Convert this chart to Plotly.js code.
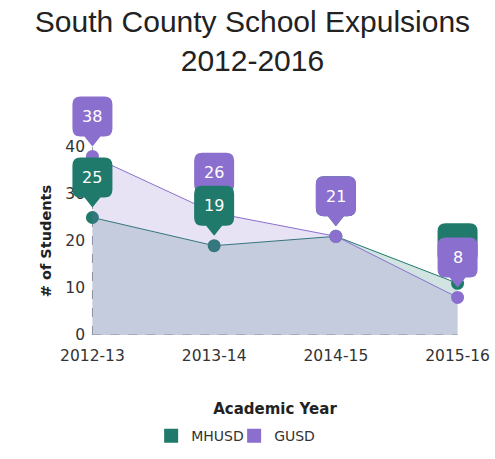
<!DOCTYPE html>
<html>
<head>
<meta charset="utf-8">
<script src="https://cdn.plot.ly/plotly-3.0.1.min.js"></script>
<style>html,body{margin:0;padding:0;background:#fff;}#chart{width:495px;height:459px;}</style>
</head>
<body>
<div id="chart"></div>
<script>
// ---- data ----
var years = ['2012-13', '2013-14', '2014-15', '2015-16'];
var mhusd = [25, 19, 21, 11];
var gusd = [38, 26, 21, 8];
var seriesNames = ['MHUSD', 'GUSD'];
var yTicks = [0, 10, 20, 30, 40];

// ---- styles ----
var teal = '#1f7a6b';
var purple = '#8b6fcf';
var TFONT = 'Liberation Sans, Arial, sans-serif';
var FONT = 'DejaVu Sans, sans-serif';

// layout geometry: the value axis (0-40) fills the lower part of the plot area,
// a hidden twin axis with the same scale spans the whole area for the callouts
var yMax = yTicks[yTicks.length - 1];
var yDomainTop = 0.7705;

var traces = [
  {
    x: years, y: mhusd, name: seriesNames[0], type: 'scatter', mode: 'lines+markers',
    fill: 'tozeroy', fillcolor: 'rgba(31,122,107,0.20)',
    line: {color: teal, width: 1}, marker: {color: teal, size: 13},
    showlegend: false, hoverinfo: 'skip', cliponaxis: false
  },
  {
    x: years, y: gusd, name: seriesNames[1], type: 'scatter', mode: 'lines+markers',
    fill: 'tozeroy', fillcolor: 'rgba(139,111,207,0.20)',
    line: {color: purple, width: 1}, marker: {color: purple, size: 13},
    showlegend: false, hoverinfo: 'skip', cliponaxis: false
  },
  // legend-only swatches
  {x: [null], y: [null], name: seriesNames[0], type: 'scatter', mode: 'markers',
   marker: {symbol: 'square', size: 14, color: teal}, hoverinfo: 'skip'},
  {x: [null], y: [null], name: seriesNames[1], type: 'scatter', mode: 'markers',
   marker: {symbol: 'square', size: 14, color: purple}, hoverinfo: 'skip'}
];

// callout shape (pixel offsets relative to the data point, up is positive)
var calloutPath = 'M -20,28 L -20,52 Q -20,60 -12,60 L 12,60 Q 20,60 20,52 L 20,28 Q 20,20 12,20 L 8,20 L 0,10 L -8,20 L -12,20 Q -20,20 -20,28 Z';

var shapes = [
  {type: 'line', xref: 'x', yref: 'y', x0: years[0], x1: years[years.length - 1], y0: 0, y1: 0,
   line: {color: '#9a9a9a', width: 1, dash: 'dash'}, layer: 'between'},
  {type: 'line', xref: 'x', yref: 'y', x0: years[0], x1: years[0], y0: 0, y1: yMax,
   line: {color: '#9a9a9a', width: 1, dash: 'dash'}, layer: 'between'}
];
var annotations = [];

function addCallout(cat, val, color, showText) {
  shapes.push({
    type: 'path', xref: 'x', yref: 'y2', xsizemode: 'pixel', ysizemode: 'pixel',
    xanchor: cat, yanchor: val, path: calloutPath,
    fillcolor: color, line: {width: 0}, layer: 'above'
  });
  if (showText) {
    annotations.push({
      x: cat, y: val, xref: 'x', yref: 'y', yshift: 40, showarrow: false,
      text: String(val), font: {family: FONT, size: 16, color: '#ffffff'}
    });
  }
}

for (var i = 0; i < years.length; i++) {
  var a = mhusd[i], b = gusd[i];
  // the lower (or, when equal, GUSD) callout sits on top
  var mhOnTop = a < b;
  var close = Math.abs(a - b) <= 4;
  if (mhOnTop) {
    addCallout(years[i], b, purple, true);
    addCallout(years[i], a, teal, true);
  } else {
    addCallout(years[i], a, teal, !close);
    addCallout(years[i], b, purple, true);
  }
}

var layout = {
  width: 495, height: 459,
  margin: {l: 62, r: 7, t: 91, b: 124, pad: 0},
  paper_bgcolor: '#ffffff', plot_bgcolor: 'rgba(0,0,0,0)',
  font: {family: FONT, color: '#333333', size: 15},
  title: {
    text: 'South County School Expulsions<br>2012-2016',
    font: {family: TFONT, size: 30, color: '#222222'},
    x: 0.51, xref: 'container', xanchor: 'center',
    y: 0.93, yref: 'container', yanchor: 'top'
  },
  xaxis: {
    type: 'category', range: [-0.25, 3.25],
    showgrid: false, zeroline: false, showline: false, ticks: '',
    tickfont: {family: FONT, size: 15.5, color: '#333333'},
    ticklabelstandoff: 9,
    title: {text: 'Academic Year', font: {family: FONT, size: 15, color: '#222222', weight: 'bold'}, standoff: 39},
    automargin: false, fixedrange: true
  },
  yaxis: {
    domain: [0, yDomainTop], range: [0, yMax], tickvals: yTicks, ticktext: yTicks.map(String),
    showgrid: false, zeroline: false, showline: false, ticks: '',
    tickfont: {family: FONT, size: 15.5, color: '#333333'},
    ticklabelstandoff: -24,
    title: {text: '# of Students', font: {family: FONT, size: 14.5, color: '#222222', weight: 'bold'}, standoff: 10},
    automargin: false, fixedrange: true
  },
  yaxis2: {
    domain: [0, 1], range: [0, yMax / yDomainTop], anchor: 'x',
    visible: false, showgrid: false, zeroline: false, fixedrange: true
  },
  showlegend: true,
  legend: {
    orientation: 'h', x: 0.473, xref: 'container', xanchor: 'center',
    y: 0.05, yref: 'container', yanchor: 'middle', entrywidth: 38, entrywidthmode: 'pixels',
    font: {family: FONT, size: 14, color: '#333333'}, itemclick: false, itemdoubleclick: false
  },
  shapes: shapes,
  annotations: annotations,
  hovermode: false
};

Plotly.newPlot('chart', traces, layout, {displayModeBar: false, staticPlot: true});
</script>
</body>
</html>
